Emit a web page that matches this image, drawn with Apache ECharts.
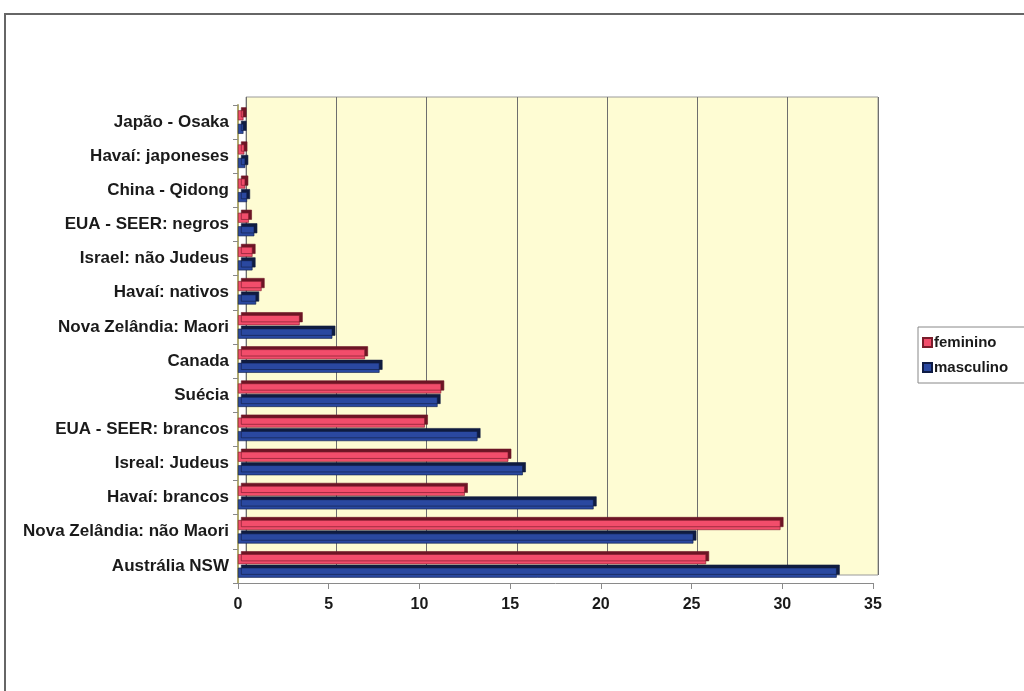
<!DOCTYPE html>
<html>
<head>
<meta charset="utf-8">
<style>
  html, body { margin: 0; padding: 0; background: #ffffff; }
  #chart { width: 1024px; height: 691px; }
</style>
<script src="https://cdn.jsdelivr.net/npm/echarts@6/dist/echarts.min.js"></script>
</head>
<body>
<div id="chart"></div>
<script>
// Categories listed top to bottom as in the picture
const categories = [
  'Japão - Osaka',
  'Havaí: japoneses',
  'China - Qidong',
  'EUA - SEER: negros',
  'Israel: não Judeus',
  'Havaí: nativos',
  'Nova Zelândia: Maori',
  'Canada',
  'Suécia',
  'EUA - SEER: brancos',
  'Isreal: Judeus',
  'Havaí: brancos',
  'Nova Zelândia: não Maori',
  'Austrália NSW'
];
const feminino  = [0.3, 0.35, 0.4, 0.6, 0.8, 1.3, 3.4, 7.0, 11.2, 10.3, 14.9, 12.5, 29.9, 25.8];
const masculino = [0.3, 0.4, 0.5, 0.9, 0.8, 1.0, 5.2, 7.8, 11.0, 13.2, 15.7, 19.6, 25.1, 33.0];
const xTicks = { min: 0, max: 35, interval: 5 };
const seriesNames = ['feminino', 'masculino'];

const FONT = '"Liberation Sans", Arial, sans-serif';
const chart = echarts.init(document.getElementById('chart'), null, { renderer: 'canvas' });

chart.setOption({
  animation: false,
  backgroundColor: '#ffffff',
  textStyle: { fontFamily: FONT },
  graphic: [
    { type: 'rect', shape: { x: 5, y: 14, width: 1100, height: 720 },
      style: { fill: 'none', stroke: '#666', lineWidth: 2 }, z: -10 }
  ],
  legend: {
    orient: 'vertical',
    left: 918, top: 327,
    data: seriesNames,
    icon: 'rect',
    itemWidth: 9, itemHeight: 9, itemGap: 10,
    padding: [8, 20, 8, 4],
    borderColor: '#888', borderWidth: 1,
    backgroundColor: '#ffffff',
    textStyle: { fontFamily: FONT, fontSize: 15, fontWeight: 'bold', color: '#1a1a1a', padding: [0, 0, 0, -3] }
  },
  grid: [
    // back wall (offset to imitate the 3D depth)
    { left: 246, right: 146, top: 97, bottom: 116, show: true,
      backgroundColor: '#fefcd3', borderColor: '#9a9a9a', borderWidth: 1 },
    // front plane for the bars and axes
    { left: 238, right: 151, top: 105, bottom: 108 }
  ],
  xAxis: [
    { gridIndex: 0, type: 'value', min: xTicks.min, max: xTicks.max, interval: xTicks.interval,
      axisLine: { show: false }, axisTick: { show: false }, axisLabel: { show: false },
      splitLine: { show: true, lineStyle: { color: '#6e6e6e', width: 1 } } },
    { gridIndex: 1, type: 'value', min: xTicks.min, max: xTicks.max, interval: xTicks.interval,
      axisLine: { show: true, lineStyle: { color: '#8a8a8a', width: 1 } },
      axisTick: { show: true, length: 6, lineStyle: { color: '#8a8a8a' } },
      axisLabel: { fontFamily: FONT, fontSize: 16, fontWeight: 'bold', color: '#1a1a1a', margin: 14 },
      splitLine: { show: false } }
  ],
  yAxis: [
    { gridIndex: 0, type: 'category', data: categories, inverse: true, show: false },
    { gridIndex: 1, type: 'category', data: categories, inverse: true,
      axisLine: { show: true, lineStyle: { color: '#b0aa70', width: 2 } },
      axisTick: { show: true, alignWithLabel: false, length: 5, lineStyle: { color: '#888' } },
      axisLabel: { fontFamily: FONT, fontSize: 17, fontWeight: 'bold', color: '#1a1a1a', margin: 9 } }
  ],
  series: [
    { name: seriesNames[0], type: 'bar', xAxisIndex: 1, yAxisIndex: 1, data: feminino,
      barWidth: 10, barGap: '35%',
      itemStyle: { color: '#f24d6b', borderColor: '#7a1d2b', borderWidth: 0.6,
        shadowColor: '#6d1525', shadowBlur: 0, shadowOffsetX: 3, shadowOffsetY: -3 } },
    { name: seriesNames[1], type: 'bar', xAxisIndex: 1, yAxisIndex: 1, data: masculino,
      barWidth: 10, barGap: '35%',
      itemStyle: { color: '#2a48a0', borderColor: '#0f1c45', borderWidth: 0.6,
        shadowColor: '#101c40', shadowBlur: 0, shadowOffsetX: 3, shadowOffsetY: -3 } }
  ]
});
</script>
</body>
</html>
